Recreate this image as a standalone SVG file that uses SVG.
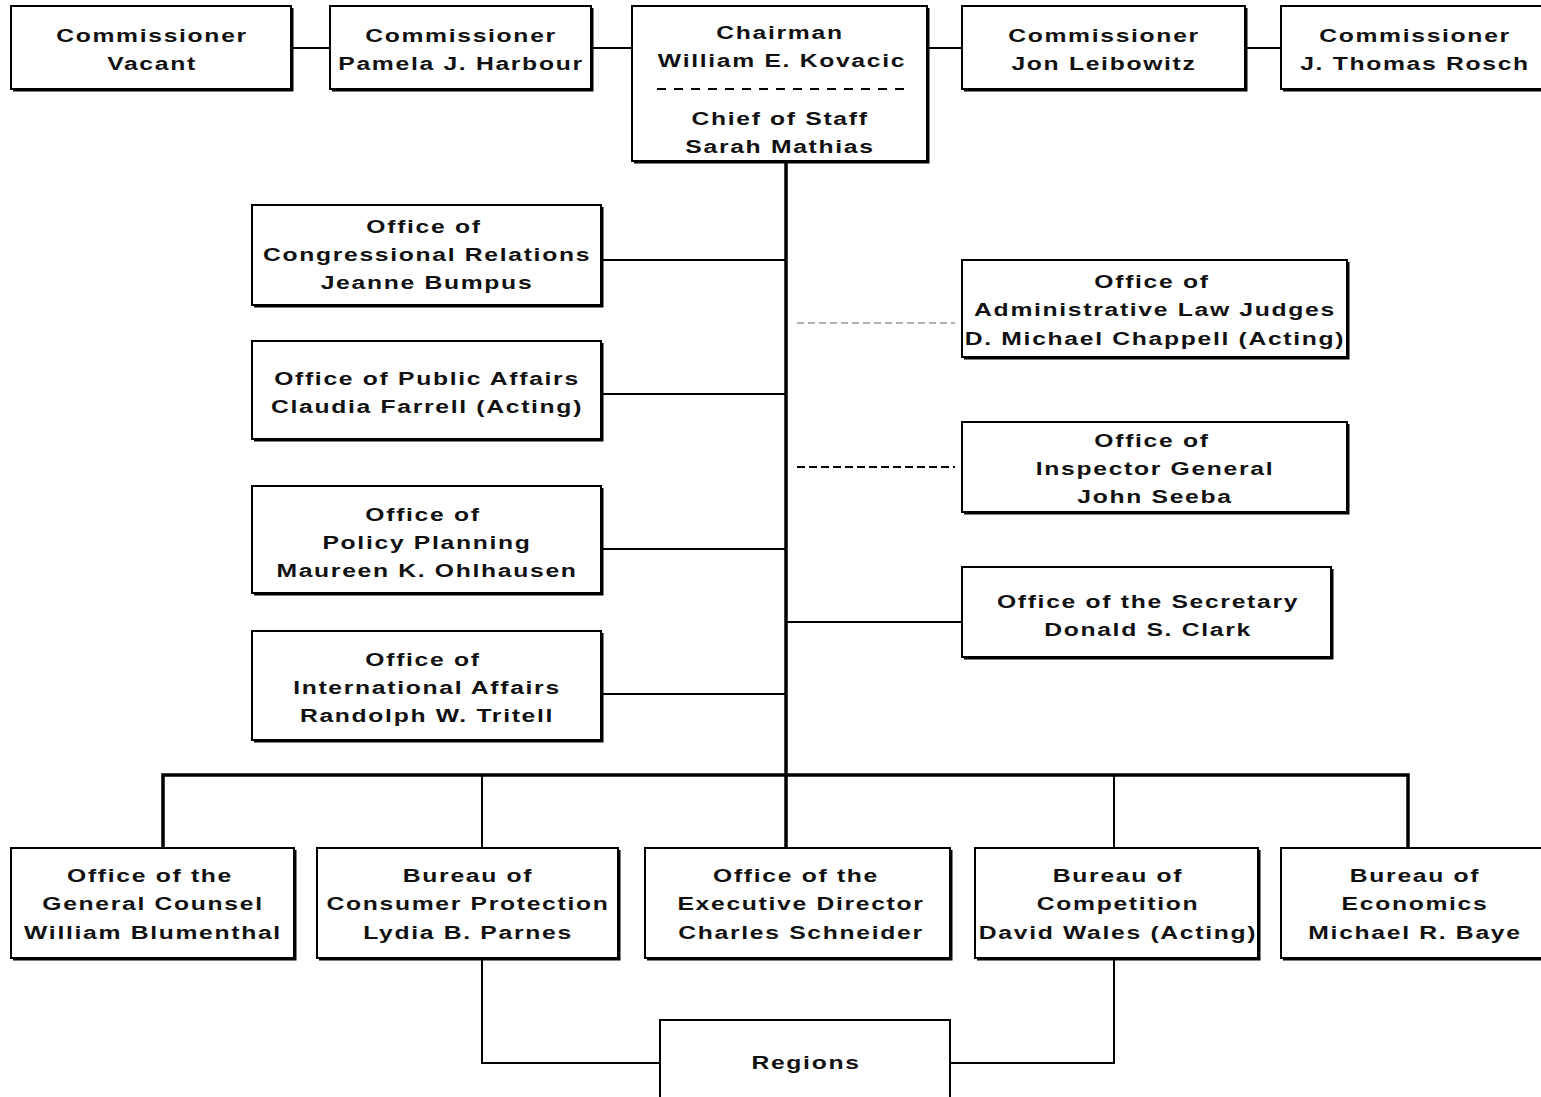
<svg xmlns="http://www.w3.org/2000/svg" width="1541" height="1097" viewBox="0 0 1541 1097">
<style>
.box{fill:#fff;stroke:#000;stroke-width:2}
.sh{fill:none;stroke:#000;stroke-width:2}
.ln{fill:none;stroke:#000;stroke-width:2}
.trunk{fill:none;stroke:#000;stroke-width:3.5}
text{font-family:"Liberation Sans",Arial,sans-serif;font-size:19px;font-weight:bold;letter-spacing:1.3px;text-anchor:middle;fill:#111}
</style>
<rect width="1541" height="1097" fill="#fff"/>
<g id="connectors">
<path class="ln" d="M291,48H330M591,48H632M927,48H962M1245,48H1281"/>
<path class="trunk" d="M786,161V848"/>
<path class="ln" d="M601,260H786M601,394H786M601,549H786M601,694H786M786,622H962"/>
<path d="M797,323H955" fill="none" stroke="#999" stroke-width="1.5" stroke-dasharray="7,4"/>
<path d="M797,467H955" fill="none" stroke="#000" stroke-width="2" stroke-dasharray="8,4"/>
<path class="trunk" d="M163,848V775H1408V848"/>
<path class="ln" d="M482,775V848M1114,775V848"/>
<path class="ln" d="M482,958V1063H660M1114,958V1063H950"/>
</g>
<g id="n-vacant">
<rect class="box" x="11" y="6" width="280" height="83"/><path class="sh" d="M292.5,8V90.5H13"/>
<text transform="translate(152,42) scale(1.3,1)">Commissioner</text>
<text transform="translate(152,70) scale(1.3,1)">Vacant</text>
</g>
<g id="n-harbour">
<rect class="box" x="330" y="6" width="261" height="83"/><path class="sh" d="M592.5,8V90.5H332"/>
<text transform="translate(461,42) scale(1.3,1)">Commissioner</text>
<text transform="translate(461,70) scale(1.3,1)">Pamela J. Harbour</text>
</g>
<g id="n-chairman">
<rect class="box" x="632" y="6" width="295" height="155"/><path class="sh" d="M928.5,8V162.5H634"/>
<text transform="translate(780,39) scale(1.3,1)">Chairman</text>
<text transform="translate(782,67) scale(1.3,1)">William E. Kovacic</text>
<path d="M657,89H907" fill="none" stroke="#000" stroke-width="2" stroke-dasharray="9,8"/>
<text transform="translate(780,125) scale(1.3,1)">Chief of Staff</text>
<text transform="translate(780,153) scale(1.3,1)">Sarah Mathias</text>
</g>
<g id="n-leibowitz">
<rect class="box" x="962" y="6" width="283" height="83"/><path class="sh" d="M1246.5,8V90.5H964"/>
<text transform="translate(1104,42) scale(1.3,1)">Commissioner</text>
<text transform="translate(1104,70) scale(1.3,1)">Jon Leibowitz</text>
</g>
<g id="n-rosch">
<rect class="box" x="1281" y="6" width="262" height="83"/><path class="sh" d="M1283,90.5H1541"/>
<text transform="translate(1415,42) scale(1.3,1)">Commissioner</text>
<text transform="translate(1415,70) scale(1.3,1)">J. Thomas Rosch</text>
</g>
<g id="n-congress">
<rect class="box" x="252" y="205" width="349" height="100"/><path class="sh" d="M602.5,207V306.5H254"/>
<text transform="translate(424,233) scale(1.3,1)">Office of</text>
<text transform="translate(427,261) scale(1.3,1)">Congressional Relations</text>
<text transform="translate(427,289) scale(1.3,1)">Jeanne Bumpus</text>
</g>
<g id="n-public">
<rect class="box" x="252" y="341" width="349" height="98"/><path class="sh" d="M602.5,343V440.5H254"/>
<text transform="translate(427,385) scale(1.3,1)">Office of Public Affairs</text>
<text transform="translate(427,413) scale(1.3,1)">Claudia Farrell (Acting)</text>
</g>
<g id="n-policy">
<rect class="box" x="252" y="486" width="349" height="107"/><path class="sh" d="M602.5,488V594.5H254"/>
<text transform="translate(423,521) scale(1.3,1)">Office of</text>
<text transform="translate(427,549) scale(1.3,1)">Policy Planning</text>
<text transform="translate(427,577) scale(1.3,1)">Maureen K. Ohlhausen</text>
</g>
<g id="n-intl">
<rect class="box" x="252" y="631" width="349" height="109"/><path class="sh" d="M602.5,633V741.5H254"/>
<text transform="translate(423,666) scale(1.3,1)">Office of</text>
<text transform="translate(427,694) scale(1.3,1)">International Affairs</text>
<text transform="translate(427,722) scale(1.3,1)">Randolph W. Tritell</text>
</g>
<g id="n-alj">
<rect class="box" x="962" y="260" width="385" height="97"/><path class="sh" d="M1348.5,262V358.5H964"/>
<text transform="translate(1152,288) scale(1.3,1)">Office of</text>
<text transform="translate(1155,316) scale(1.3,1)">Administrative Law Judges</text>
<text transform="translate(1155,345) scale(1.3,1)">D. Michael Chappell (Acting)</text>
</g>
<g id="n-ig">
<rect class="box" x="962" y="422" width="385" height="90"/><path class="sh" d="M1348.5,424V513.5H964"/>
<text transform="translate(1152,447) scale(1.3,1)">Office of</text>
<text transform="translate(1155,475) scale(1.3,1)">Inspector General</text>
<text transform="translate(1155,503) scale(1.3,1)">John Seeba</text>
</g>
<g id="n-secretary">
<rect class="box" x="962" y="567" width="369" height="90"/><path class="sh" d="M1332.5,569V658.5H964"/>
<text transform="translate(1148,608) scale(1.3,1)">Office of the Secretary</text>
<text transform="translate(1148,636) scale(1.3,1)">Donald S. Clark</text>
</g>
<g id="n-counsel">
<rect class="box" x="11" y="848" width="283" height="110"/><path class="sh" d="M295.5,850V959.5H13"/>
<text transform="translate(150,882) scale(1.3,1)">Office of the</text>
<text transform="translate(153,910) scale(1.3,1)">General Counsel</text>
<text transform="translate(153,939) scale(1.3,1)">William Blumenthal</text>
</g>
<g id="n-consumer">
<rect class="box" x="317" y="848" width="301" height="110"/><path class="sh" d="M619.5,850V959.5H319"/>
<text transform="translate(468,882) scale(1.3,1)">Bureau of</text>
<text transform="translate(468,910) scale(1.3,1)">Consumer Protection</text>
<text transform="translate(468,939) scale(1.3,1)">Lydia B. Parnes</text>
</g>
<g id="n-exec">
<rect class="box" x="645" y="848" width="305" height="110"/><path class="sh" d="M951.5,850V959.5H647"/>
<text transform="translate(796,882) scale(1.3,1)">Office of the</text>
<text transform="translate(801,910) scale(1.3,1)">Executive Director</text>
<text transform="translate(801,939) scale(1.3,1)">Charles Schneider</text>
</g>
<g id="n-competition">
<rect class="box" x="975" y="848" width="283" height="110"/><path class="sh" d="M1259.5,850V959.5H977"/>
<text transform="translate(1118,882) scale(1.3,1)">Bureau of</text>
<text transform="translate(1118,910) scale(1.3,1)">Competition</text>
<text transform="translate(1118,939) scale(1.3,1)">David Wales (Acting)</text>
</g>
<g id="n-economics">
<rect class="box" x="1281" y="848" width="262" height="110"/><path class="sh" d="M1283,959.5H1541"/>
<text transform="translate(1415,882) scale(1.3,1)">Bureau of</text>
<text transform="translate(1415,910) scale(1.3,1)">Economics</text>
<text transform="translate(1415,939) scale(1.3,1)">Michael R. Baye</text>
</g>
<g id="n-regions">
<rect class="box" x="660" y="1020" width="290" height="90"/>
<text transform="translate(806,1069) scale(1.3,1)">Regions</text>
</g>
</svg>
